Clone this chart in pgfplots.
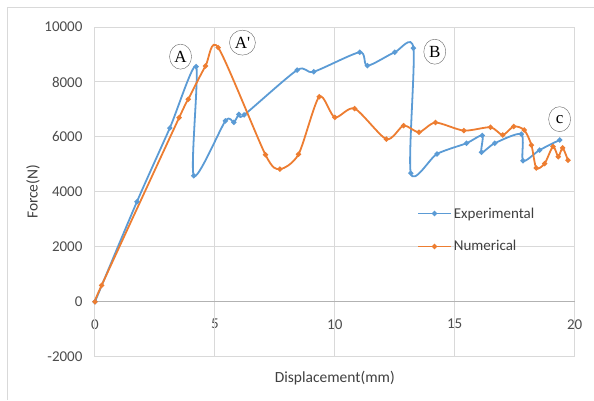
\documentclass[border=0pt]{standalone}
\usepackage{pgfplots}
\pgfplotsset{compat=1.18}
\usetikzlibrary{shapes.geometric}
\usepackage{fontspec}
\setmainfont{Carlito}
\newfontfamily\serifann{Liberation Serif}
\definecolor{exblue}{HTML}{5B9BD5}
\definecolor{exorange}{HTML}{ED7D31}
\definecolor{gridgray}{HTML}{D9D9D9}
\begin{document}
\begin{tikzpicture}
\begin{axis}[
  scale only axis,
  width=480pt, height=330pt,
  xmin=0, xmax=20, ymin=-2000, ymax=10000,
  xtick={0,5,10,15,20}, ytick={-2000,0,2000,4000,6000,8000,10000},
  scaled y ticks=false, scaled x ticks=false,
  axis line style={draw=none},
  tick style={draw=none},
  clip=false,
  /pgf/number format/assume math mode=true,
  /pgf/number format/set thousands separator={},
  ticklabel style={font=\fontsize{15}{17}\selectfont, text=black!70},
  xticklabel style={yshift=41pt},
  yticklabel style={xshift=-9pt},
  every axis x label/.style={at={(rel axis cs:0.5,0)}, anchor=center, yshift=-21pt},
  every axis y label/.style={at={(rel axis cs:0,0.5)}, anchor=center, rotate=90, yshift=62pt},
  xlabel={Displacement(mm)}, ylabel={Force(N)},
  label style={font=\fontsize{15.5}{17}\selectfont, text=black!75},
  legend style={draw=none, fill=none, at={(rel axis cs:0.665,0.465)}, anchor=north west,
    font=\fontsize{15}{17}\selectfont, text=black!75, row sep=17pt},
  legend cell align=left,
  legend image code/.code={\draw[#1, line width=1.8pt] (0pt,0pt) -- (33pt,0pt); \fill[#1] (16.5pt,0pt) circle (1.6pt);},
]
% gridlines
\draw[gridgray, line width=0.9pt] (axis cs:0,-2000) -- (axis cs:0,10000);
\draw[gridgray, line width=0.9pt] (axis cs:5,-2000) -- (axis cs:5,10000);
\draw[gridgray, line width=0.9pt] (axis cs:10,-2000) -- (axis cs:10,10000);
\draw[gridgray, line width=0.9pt] (axis cs:15,-2000) -- (axis cs:15,10000);
\draw[gridgray, line width=0.9pt] (axis cs:20,-2000) -- (axis cs:20,10000);
\draw[gridgray, line width=0.9pt] (axis cs:0,-2000) -- (axis cs:20,-2000);
\draw[gridgray, line width=0.9pt] (axis cs:0,2000) -- (axis cs:20,2000);
\draw[gridgray, line width=0.9pt] (axis cs:0,4000) -- (axis cs:20,4000);
\draw[gridgray, line width=0.9pt] (axis cs:0,6000) -- (axis cs:20,6000);
\draw[gridgray, line width=0.9pt] (axis cs:0,8000) -- (axis cs:20,8000);
\draw[gridgray, line width=0.9pt] (axis cs:0,10000) -- (axis cs:20,10000);
\draw[black!30, line width=0.9pt] (axis cs:0,0) -- (axis cs:20,0);
\addplot[exblue, line width=1.8pt, smooth, tension=0.45, mark=*, mark size=1.6pt] coordinates {
(0,0) (1.75,3640) (3.12,6320) (4.22,8560) (4.12,4590) (5.44,6580) (5.79,6530) (6.0,6820) (6.22,6800)
(8.43,8430) (9.12,8370) (11.04,9080) (11.36,8590) (12.5,9080) (13.28,9230) (13.17,4680) (14.26,5380)
(15.49,5770) (16.15,6050) (16.12,5440) (16.67,5770) (17.78,6100) (17.85,5130) (18.54,5520) (19.38,5890)
};
\addlegendentry{Experimental}
\addplot[exorange, line width=1.8pt, smooth, tension=0.45, mark=*, mark size=1.6pt] coordinates {
(0,0) (0.28,600) (3.51,6700) (3.89,7370) (4.61,8580) (5.14,9250) (7.11,5350) (7.71,4830) (8.49,5370)
(9.35,7460) (10.0,6710) (10.83,7030) (12.15,5920) (12.87,6410) (13.51,6170) (14.2,6520) (15.38,6230)
(16.49,6350) (17.0,6070) (17.46,6380) (17.9,6250) (18.2,5700) (18.4,4870) (18.75,5030) (19.1,5650)
(19.32,5280) (19.5,5600) (19.72,5150)
};
\addlegendentry{Numerical}
\node[draw=black!60, ellipse, inner sep=1.5pt, font=\serifann\fontsize{17}{19}\selectfont, fill=white, minimum width=22pt, minimum height=25pt] at (axis cs:3.57,8920) {A};
\node[draw=black!60, ellipse, inner sep=1.5pt, font=\serifann\fontsize{17}{19}\selectfont, fill=white, minimum width=22pt, minimum height=25pt] at (axis cs:6.15,9430) {A'};
\node[draw=black!60, ellipse, inner sep=1.5pt, font=\serifann\fontsize{17}{19}\selectfont, fill=white, minimum width=22pt, minimum height=25pt] at (axis cs:14.17,9100) {B};
\node[draw=black!60, ellipse, inner sep=1.5pt, font=\serifann\fontsize{17}{19}\selectfont, fill=white, minimum width=22pt, minimum height=25pt] at (axis cs:19.375,6645) {c};
\end{axis}
\draw[gridgray, line width=0.8pt] ([shift={(-88pt,-43pt)}]current axis.south west) |- ([shift={(19pt,20pt)}]current axis.north east);
\useasboundingbox ([shift={(-95pt,-43pt)}]current axis.south west) rectangle ([shift={(19pt,27pt)}]current axis.north east);
\end{tikzpicture}
\end{document}
